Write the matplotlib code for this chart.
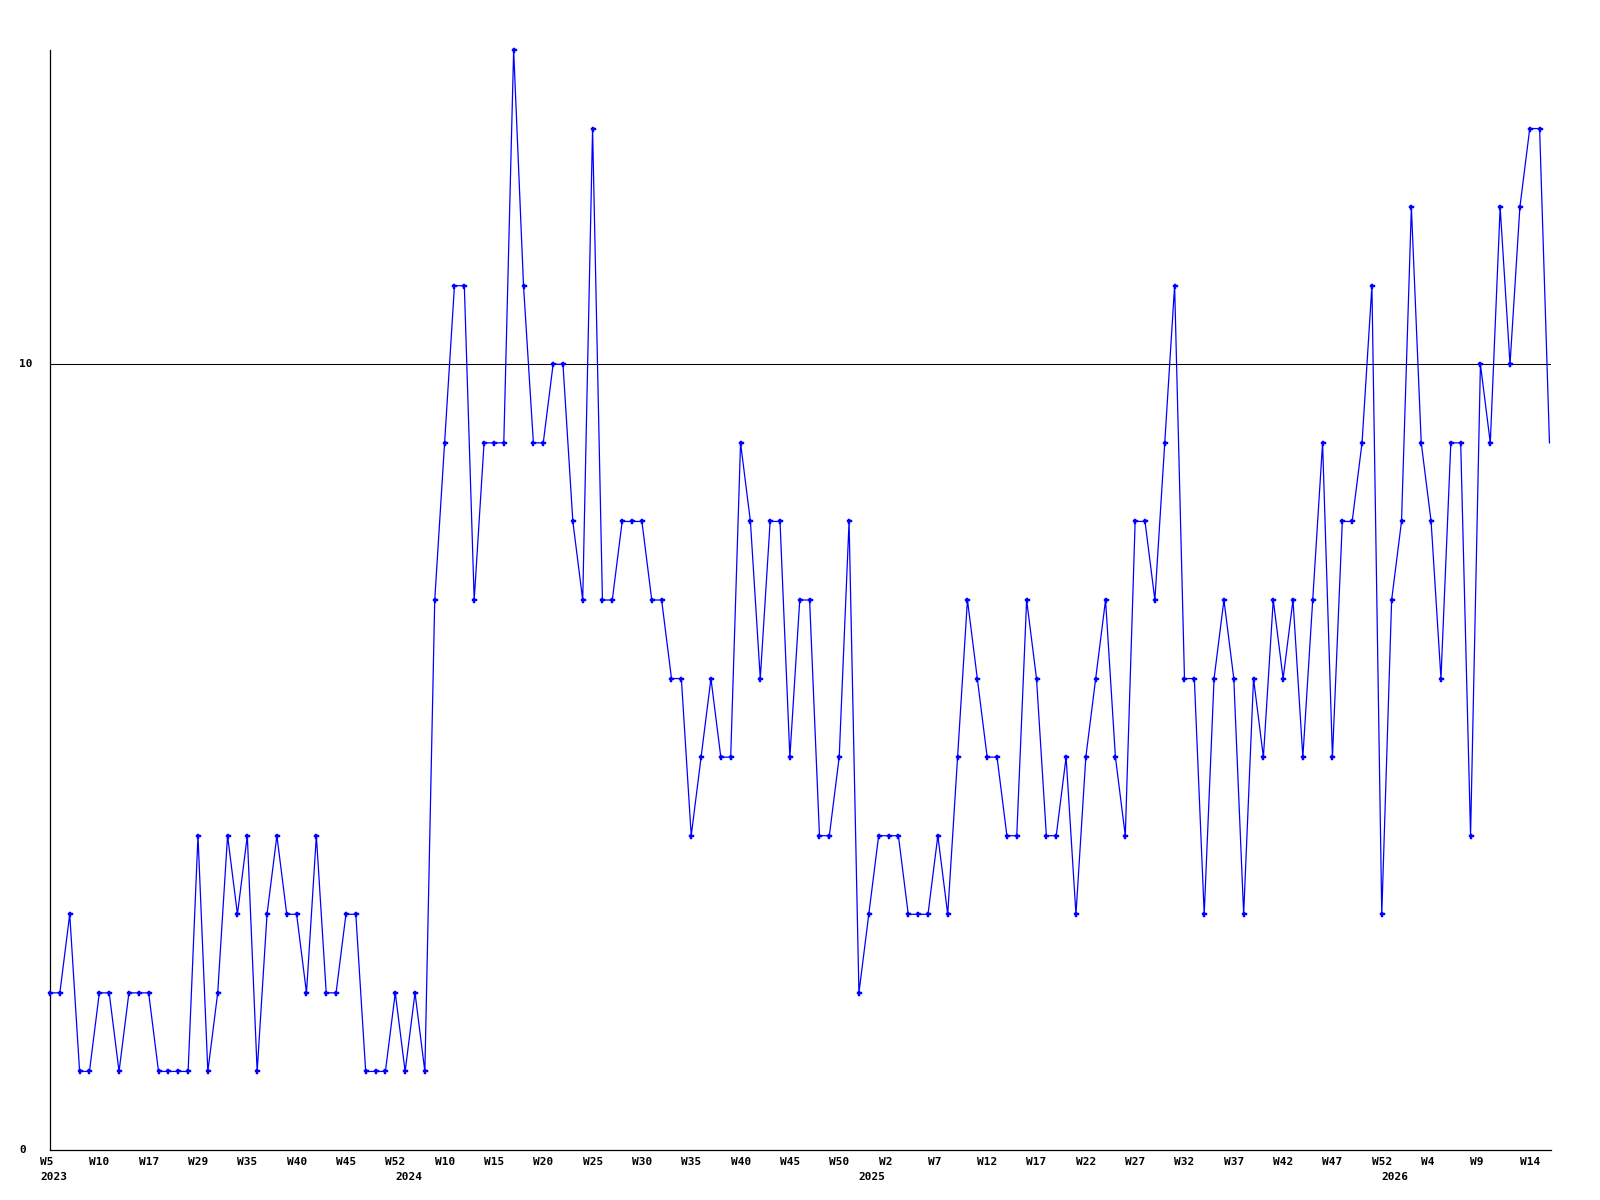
import matplotlib
matplotlib.use("Agg")
import matplotlib.pyplot as plt
from matplotlib.transforms import blended_transform_factory, ScaledTranslation

# weekly values, one per point
values = [
    2, 2, 3, 1, 1, 2, 2, 1, 2, 2,
    2, 1, 1, 1, 1, 4, 1, 2, 4, 3,
    4, 1, 3, 4, 3, 3, 2, 4, 2, 2,
    3, 3, 1, 1, 1, 2, 1, 2, 1, 7,
    9, 11, 11, 7, 9, 9, 9, 14, 11, 9,
    9, 10, 10, 8, 7, 13, 7, 7, 8, 8,
    8, 7, 7, 6, 6, 4, 5, 6, 5, 5,
    9, 8, 6, 8, 8, 5, 7, 7, 4, 4,
    5, 8, 2, 3, 4, 4, 4, 3, 3, 3,
    4, 3, 5, 7, 6, 5, 5, 4, 4, 7,
    6, 4, 4, 5, 3, 5, 6, 7, 5, 4,
    8, 8, 7, 9, 11, 6, 6, 3, 6, 7,
    6, 3, 6, 5, 7, 6, 7, 5, 7, 9,
    5, 8, 8, 9, 11, 3, 7, 8, 12, 9,
    8, 6, 9, 9, 4, 10, 9, 12, 10, 12,
    13, 13, 9,
]

# week labels shown on every 5th point
week_labels = ["W5", "W10", "W17", "W29", "W35", "W40", "W45", "W52",
               "W10", "W15", "W20", "W25", "W30", "W35", "W40", "W45", "W50",
               "W2", "W7", "W12", "W17", "W22", "W27", "W32", "W37", "W42",
               "W47", "W52", "W4", "W9", "W14"]
week_label_step = 5

# year labels and the point index where each year starts
year_labels = ["2023", "2024", "2025", "2026"]
year_start_index = [0, 36, 83, 136]

y_ticks = [0, 10]
y_max = 14

W, H = 1600, 1200
DPI = 100
fig = plt.figure(figsize=(W / DPI, H / DPI), dpi=DPI)
fig.patch.set_facecolor("white")

left_px, right_px, top_px, bottom_px = 50, 1551, 50, 1150
ax = fig.add_axes([left_px / W, (H - bottom_px) / H,
                   (right_px - left_px) / W, (bottom_px - top_px) / H])

n = len(values)
x = list(range(n))
ax.set_xlim(0, (right_px - left_px) / 9.865)
ax.set_ylim(0, y_max)

# reference line at 10
ax.axhline(10, color="black", lw=0.75, zorder=1)

ax.plot(x, values, color="#0000ff", lw=0.9, marker="P", markersize=3.6,
        markeredgewidth=0.3, markevery=list(range(n - 1)),
        clip_on=False, zorder=3)

for side in ["top", "right"]:
    ax.spines[side].set_visible(False)
for side in ["left", "bottom"]:
    ax.spines[side].set_color("black")
    ax.spines[side].set_linewidth(0.9)

ax.set_xticks([])
ax.set_yticks([])

font = dict(family="DejaVu Sans Mono", weight="bold", size=8, color="black")

# y labels
ty = blended_transform_factory(fig.transFigure, ax.transData)
for v in y_ticks:
    ax.text(19 / W, v, str(v), transform=ty, ha="left", va="center",
            clip_on=False, **font)

# x labels: left aligned, 10 px to the left of their point
off = ScaledTranslation(-10 / DPI, 0, fig.dpi_scale_trans)
tx = blended_transform_factory(ax.transData, fig.transFigure) + off
for i, lab in enumerate(week_labels):
    ax.text(i * week_label_step, (H - 1162) / H, lab, transform=tx,
            ha="left", va="center", clip_on=False, **font)
for idx, lab in zip(year_start_index, year_labels):
    ax.text(idx, (H - 1177) / H, lab, transform=tx,
            ha="left", va="center", clip_on=False, **font)

fig.savefig("out.png", dpi=DPI, facecolor="white")
